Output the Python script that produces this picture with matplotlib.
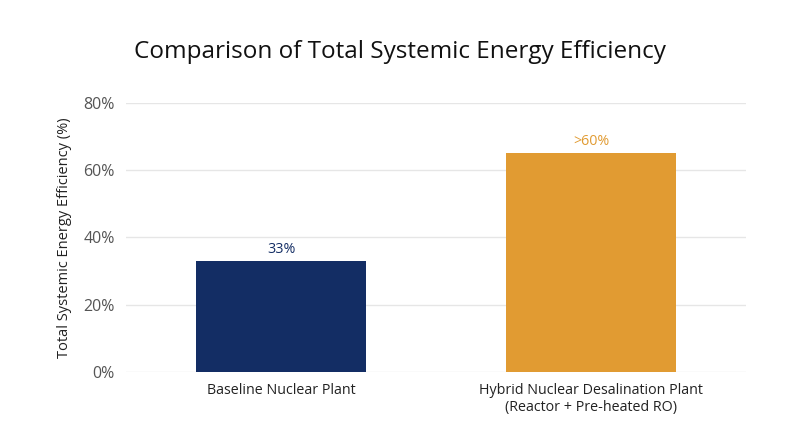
import matplotlib
matplotlib.use("Agg")
import matplotlib.pyplot as plt

categories = ["Baseline Nuclear Plant", "Hybrid Nuclear Desalination Plant\n(Reactor + Pre-heated RO)"]
values = [33, 65]
value_labels = ["33%", ">60%"]
bar_colors = ["#132d64", "#e19b32"]
yticks = [0, 20, 40, 60, 80]

plt.rcParams["font.family"] = ["Open Sans", "DejaVu Sans"]

fig = plt.figure(figsize=(8, 4.47), dpi=100)
ax = fig.add_axes([0.1575, 0.168, 0.775, 0.602])

x = range(len(categories))
bars = ax.bar(x, values, width=0.55, color=bar_colors, zorder=3)
for b, lab, c in zip(bars, value_labels, bar_colors):
    ax.text(b.get_x() + b.get_width() / 2, b.get_height() + 1.3, lab,
            ha="center", va="bottom", fontsize=10.3, color=c)

ax.set_xlim(-0.5, 1.5)
ax.set_ylim(0, 80)
ax.set_yticks(yticks)
ax.set_yticklabels([f"{t}%" for t in yticks], fontsize=11.5, color="#555555")
ax.set_xticks(list(x))
ax.set_xticklabels(categories, fontsize=10.3, color="#222222")
ax.tick_params(axis="both", length=0, pad=8)
ax.grid(axis="y", color="#e6e6e6", linewidth=1, zorder=0)
for s in ax.spines.values():
    s.set_visible(False)
ax.set_ylabel("Total Systemic Energy Efficiency (%)", fontsize=10.5, color="#222222", labelpad=8)

fig.text(0.5, 0.883, "Comparison of Total Systemic Energy Efficiency",
         ha="center", va="center", fontsize=17.5, color="#111111")

fig.savefig("out.png", dpi=100, facecolor="white")
